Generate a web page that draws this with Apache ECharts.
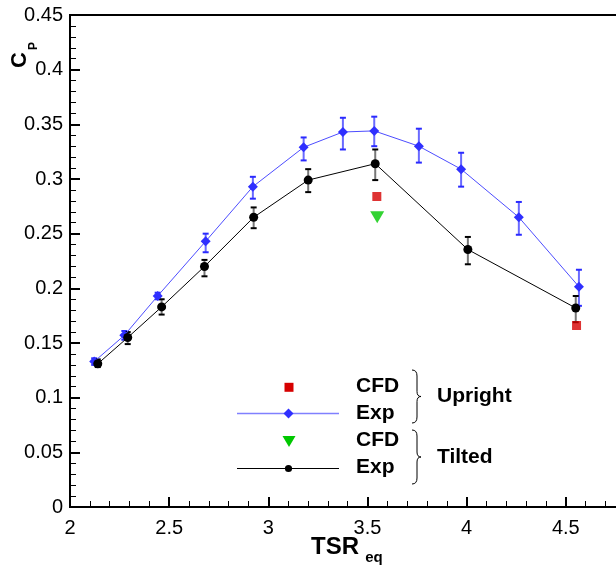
<!DOCTYPE html>
<html>
<head>
<meta charset="utf-8">
<script src="https://cdn.jsdelivr.net/npm/echarts@6/dist/echarts.min.js"></script>
<style>
html,body{margin:0;padding:0;background:#fff;}
#chart{width:616px;height:568px;}
</style>
</head>
<body>
<div id="chart"></div>
<script>
// ---- data ----
var uprightExpX  = [2.122, 2.274, 2.442, 2.684, 2.922, 3.178, 3.376, 3.534, 3.759, 3.972, 4.263, 4.566];
var uprightExpY  = [0.133, 0.157, 0.193, 0.243, 0.293, 0.329, 0.343, 0.344, 0.330, 0.309, 0.265, 0.2015];
var uprightExpLo = [0.130, 0.153, 0.190, 0.233, 0.282, 0.317, 0.327, 0.330, 0.315, 0.293, 0.249, 0.184];
var uprightExpHi = [0.136, 0.161, 0.196, 0.250, 0.302, 0.338, 0.356, 0.357, 0.346, 0.324, 0.279, 0.217];

var tiltedExpX  = [2.140, 2.291, 2.462, 2.678, 2.926, 3.201, 3.539, 4.006, 4.550];
var tiltedExpY  = [0.131, 0.155, 0.183, 0.220, 0.265, 0.299, 0.314, 0.2355, 0.182];
var tiltedExpLo = [0.128, 0.149, 0.176, 0.211, 0.255, 0.288, 0.299, 0.222, 0.169];
var tiltedExpHi = [0.135, 0.160, 0.190, 0.226, 0.274, 0.309, 0.327, 0.247, 0.193];

var uprightCfdX = [3.547, 4.554];
var uprightCfdY = [0.284, 0.166];
var tiltedCfdX  = [3.549];
var tiltedCfdY  = [0.265];

var xTickValues = [2, 2.5, 3, 3.5, 4, 4.5];
var yTickValues = [0, 0.05, 0.1, 0.15, 0.2, 0.25, 0.3, 0.35, 0.4, 0.45];

var legendGroups = ['Upright', 'Tilted'];
var legendItems = ['CFD', 'Exp', 'CFD', 'Exp'];

// ---- build ----
function pairs(xs, ys){ return xs.map(function(x,i){ return [x, ys[i]]; }); }
function bars(xs, lo, hi){ return xs.map(function(x,i){ return [x, lo[i], hi[i]]; }); }

var FONT = 'Liberation Sans, Arial, Helvetica, sans-serif';

function errRender(lineColor, capColor){
  return function(params, api){
    var x = api.value(0);
    var p1 = api.coord([x, api.value(1)]);
    var p2 = api.coord([x, api.value(2)]);
    var hw = 3;
    return {
      type: 'group',
      children: [
        {type:'line', shape:{x1:p1[0], y1:p1[1], x2:p2[0], y2:p2[1]}, style:{stroke:lineColor, lineWidth:2}},
        {type:'line', shape:{x1:p1[0]-hw, y1:p1[1], x2:p1[0]+hw, y2:p1[1]}, style:{stroke:capColor, lineWidth:2}},
        {type:'line', shape:{x1:p2[0]-hw, y1:p2[1], x2:p2[0]+hw, y2:p2[1]}, style:{stroke:capColor, lineWidth:2}}
      ]
    };
  };
}

function fmt(v){
  for (var i=0;i<xTickValues.length;i++){ if (Math.abs(v-xTickValues[i])<1e-6) return String(xTickValues[i]); }
  return '';
}
function fmtY(v){
  for (var i=0;i<yTickValues.length;i++){ if (Math.abs(v-yTickValues[i])<1e-6) return String(yTickValues[i]); }
  return '';
}

function brace(y0, y1){
  var ym = (y0+y1)/2;
  var st = {stroke:'#000', lineWidth:1, fill:null};
  return [
    {type:'bezierCurve', shape:{x1:412, y1:y0, cpx1:417, cpy1:y0, x2:417, y2:y0+6}, style:st},
    {type:'line', shape:{x1:417, y1:y0+6, x2:417, y2:ym-5}, style:st},
    {type:'bezierCurve', shape:{x1:417, y1:ym-5, cpx1:417, cpy1:ym, x2:421, y2:ym}, style:st},
    {type:'bezierCurve', shape:{x1:421, y1:ym, cpx1:417, cpy1:ym, x2:417, y2:ym+5}, style:st},
    {type:'line', shape:{x1:417, y1:ym+5, x2:417, y2:y1-6}, style:st},
    {type:'bezierCurve', shape:{x1:417, y1:y1-6, cpx1:417, cpy1:y1, x2:412, y2:y1}, style:st}
  ];
}

var chart = echarts.init(document.getElementById('chart'), null, {renderer:'canvas'});

var graphics = [
  // y axis title C_P (rotated)
  {type:'text', x:20, y:60, rotation:Math.PI/2, style:{text:'C', font:'bold 22px '+FONT, fill:'#000', align:'center', verticalAlign:'middle'}},
  {type:'text', x:34, y:46, rotation:Math.PI/2, style:{text:'P', font:'bold 12px '+FONT, fill:'#000', align:'center', verticalAlign:'middle'}},
  // x axis title TSR_eq
  {type:'text', x:335, y:547, style:{text:'TSR', font:'bold 24px '+FONT, fill:'#000', align:'center', verticalAlign:'middle'}},
  {type:'text', x:374, y:558, style:{text:'eq', font:'bold 15px '+FONT, fill:'#000', align:'center', verticalAlign:'middle'}},
  // legend symbols
  {type:'rect', shape:{x:284.5, y:382.8, width:9, height:9}, style:{fill:'#d60000'}},
  {type:'line', shape:{x1:237, y1:413.5, x2:339, y2:413.5}, style:{stroke:'#8080ff', lineWidth:1.5}},
  {type:'polygon', shape:{points:[[288.5,408.5],[293.5,413.5],[288.5,418.5],[283.5,413.5]]}, style:{fill:'#2f2fff'}},
  {type:'polygon', shape:{points:[[282.5,436],[295.5,436],[289,447]]}, style:{fill:'#00c800'}},
  {type:'line', shape:{x1:237, y1:468.5, x2:339, y2:468.5}, style:{stroke:'#000', lineWidth:1}},
  {type:'circle', shape:{cx:288.5, cy:468.5, r:3.6}, style:{fill:'#000'}},
  // legend text
  {type:'text', x:356, y:386, style:{text:legendItems[0], font:'bold 21px '+FONT, fill:'#000', verticalAlign:'middle'}},
  {type:'text', x:356, y:413, style:{text:legendItems[1], font:'bold 21px '+FONT, fill:'#000', verticalAlign:'middle'}},
  {type:'text', x:356, y:440, style:{text:legendItems[2], font:'bold 21px '+FONT, fill:'#000', verticalAlign:'middle'}},
  {type:'text', x:356, y:467, style:{text:legendItems[3], font:'bold 21px '+FONT, fill:'#000', verticalAlign:'middle'}},
  {type:'text', x:437, y:396, style:{text:legendGroups[0], font:'bold 21px '+FONT, fill:'#000', verticalAlign:'middle'}},
  {type:'text', x:437, y:457, style:{text:legendGroups[1], font:'bold 21px '+FONT, fill:'#000', verticalAlign:'middle'}}
].concat(brace(370, 423)).concat(brace(430, 484));

var option = {
  animation: false,
  backgroundColor: '#fff',
  grid: {left:70, width:595, top:15, bottom:61, show:true, borderColor:'#000', borderWidth:2, backgroundColor:'transparent',
         containLabel:false, outerBoundsMode:'none'},
  xAxis: {
    type:'value', min:2, max:5, interval:0.5,
    axisLine:{show:true, onZero:false, lineStyle:{color:'#000', width:2}},
    axisTick:{show:true, inside:true, length:10, lineStyle:{color:'#000', width:2}},
    minorTick:{show:true, splitNumber:5, length:6, lineStyle:{color:'#000', width:1}},
    splitLine:{show:false},
    axisLabel:{color:'#000', fontSize:20, fontFamily:FONT, margin:11, formatter:fmt}
  },
  yAxis: {
    type:'value', min:0, max:0.45, interval:0.05,
    axisLine:{show:true, onZero:false, lineStyle:{color:'#000', width:2}},
    axisTick:{show:true, inside:true, length:10, lineStyle:{color:'#000', width:2}},
    minorTick:{show:true, splitNumber:5, length:6, lineStyle:{color:'#000', width:1}},
    splitLine:{show:false},
    axisLabel:{color:'#000', fontSize:20, fontFamily:FONT, margin:7, formatter:fmtY}
  },
  series: [
    {type:'custom', name:'errUpright', renderItem: errRender('#6a6aff', '#2a2aff'), data: bars(uprightExpX, uprightExpLo, uprightExpHi), z:2, silent:true},
    {type:'custom', name:'errTilted', renderItem: errRender('#777777', '#000000'), data: bars(tiltedExpX, tiltedExpLo, tiltedExpHi), z:2, silent:true},
    {type:'line', name:'Exp Upright', data: pairs(uprightExpX, uprightExpY), symbol:'diamond', symbolSize:10,
     lineStyle:{color:'#4d4dff', width:1}, itemStyle:{color:'#2f2fff'}, z:3},
    {type:'line', name:'Exp Tilted', data: pairs(tiltedExpX, tiltedExpY), symbol:'circle', symbolSize:9,
     lineStyle:{color:'#000', width:1}, itemStyle:{color:'#000'}, z:3},
    {type:'scatter', name:'CFD Upright', data: pairs(uprightCfdX, uprightCfdY), symbol:'rect', symbolSize:9,
     itemStyle:{color:'#d60000'}, z:4},
    {type:'scatter', name:'CFD Tilted', data: pairs(tiltedCfdX, tiltedCfdY), symbol:'triangle', symbolRotate:180, symbolSize:[14,12],
     itemStyle:{color:'#00c800'}, z:4}
  ],
  graphic: graphics
};
chart.setOption(option);
</script>
</body>
</html>
